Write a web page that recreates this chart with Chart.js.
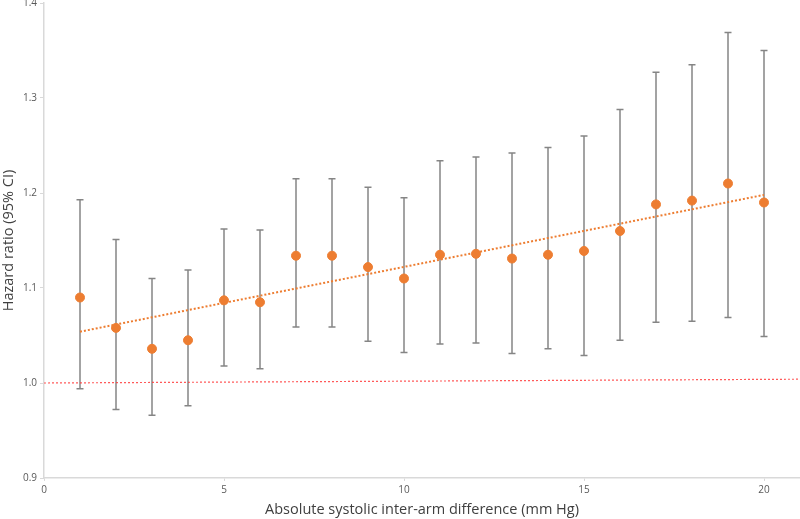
<!DOCTYPE html>
<html>
<head>
<meta charset="utf-8">
<script src="https://cdn.jsdelivr.net/npm/chart.js@4.4.1/dist/chart.umd.min.js"></script>
<style>
  html, body { margin: 0; padding: 0; background: #fff; }
  #wrap { width: 800px; height: 519px; position: relative; }
</style>
</head>
<body>
<div id="wrap"><canvas id="chart1"></canvas></div>
<script>
// data
var armDiff = [1, 2, 3, 4, 5, 6, 7, 8, 9, 10, 11, 12, 13, 14, 15, 16, 17, 18, 19, 20];
var hazard = [1.090, 1.058, 1.036, 1.045, 1.087, 1.085, 1.134, 1.134, 1.122, 1.110,
              1.135, 1.136, 1.131, 1.135, 1.139, 1.160, 1.188, 1.192, 1.210, 1.190];
var ciUpper = [1.193, 1.151, 1.110, 1.119, 1.162, 1.161, 1.215, 1.215, 1.206, 1.195,
               1.234, 1.238, 1.242, 1.248, 1.260, 1.288, 1.327, 1.335, 1.369, 1.350];
var ciLower = [0.994, 0.972, 0.966, 0.976, 1.018, 1.015, 1.059, 1.059, 1.044, 1.032,
               1.041, 1.042, 1.031, 1.036, 1.029, 1.045, 1.064, 1.065, 1.069, 1.049];
var trendX = [1, 20];
var trendY = [1.054, 1.198];
var refX = [0, 21];
var refY = [1.000, 1.004];
var xTicks = [0, 5, 10, 15, 20];
var yTicks = [0.9, 1.0, 1.1, 1.2, 1.3, 1.4];

function pts(xs, ys) {
    return xs.map(function(x, i) { return { x: x, y: ys[i] }; });
}

// error bars drawn through the chart scales
var errorBars = {
    id: 'errorBars',
    beforeDatasetsDraw: function(chart) {
        var ctx = chart.ctx, xs = chart.scales.x, ys = chart.scales.y;
        ctx.save();
        ctx.strokeStyle = '#858585';
        ctx.lineWidth = 1.5;
        armDiff.forEach(function(x, i) {
            var px = xs.getPixelForValue(x);
            var top = ys.getPixelForValue(ciUpper[i]);
            var bot = ys.getPixelForValue(ciLower[i]);
            ctx.beginPath();
            ctx.moveTo(px, top); ctx.lineTo(px, bot);
            ctx.moveTo(px - 3.5, top); ctx.lineTo(px + 3.5, top);
            ctx.moveTo(px - 3.5, bot); ctx.lineTo(px + 3.5, bot);
            ctx.stroke();
        });
        ctx.restore();
    }
};

var ctx = document.getElementById('chart1').getContext('2d');
var myChart = new Chart(ctx, {
    type: 'scatter',
    data: {
        datasets: [{
            label: 'Reference',
            data: pts(refX, refY),
            showLine: true,
            borderColor: 'rgba(255, 60, 60, 0.85)',
            borderWidth: 1.2,
            borderDash: [2, 2],
            pointRadius: 0,
            order: 3
        },
        {
            label: 'Trend',
            data: pts(trendX, trendY),
            showLine: true,
            borderColor: '#ED7D31',
            borderWidth: 2,
            borderDash: [2, 2],
            pointRadius: 0,
            order: 2
        },
        {
            label: 'Hazard ratio',
            data: pts(armDiff, hazard),
            backgroundColor: '#ED7D31',
            borderColor: '#ED7D31',
            pointRadius: 4.5,
            order: 1
        }]
    },
    options: {
        responsive: true,
        maintainAspectRatio: false,
        animation: false,
        layout: { autoPadding: false, padding: { top: 3, right: 0, left: 0, bottom: 0 } },
        plugins: {
            legend: { display: false },
            tooltip: { enabled: false }
        },
        scales: {
            x: {
                type: 'linear',
                min: 0,
                max: 21,
                afterBuildTicks: function(scale) {
                    scale.ticks = xTicks.map(function(v) { return { value: v }; });
                },
                afterFit: function(scale) {
                    scale.height = 41;
                    scale.paddingRight = 0;
                    scale.paddingLeft = 0;
                },
                ticks: {
                    color: '#595959',
                    font: { family: 'Open Sans', size: 10 },
                    padding: 3,
                    maxRotation: 0
                },
                grid: { drawOnChartArea: false, drawTicks: true, tickLength: 3, color: '#d9d9d9' },
                border: { color: '#d9d9d9', width: 1.5 },
                title: {
                    display: true,
                    text: 'Absolute systolic inter-arm difference (mm Hg)',
                    color: '#404040',
                    font: { family: 'Open Sans', size: 14.5 },
                    padding: { top: 0, bottom: 0 }
                }
            },
            y: {
                min: 0.9,
                max: 1.4,
                afterBuildTicks: function(scale) {
                    scale.ticks = yTicks.map(function(v) { return { value: v }; });
                },
                afterFit: function(scale) {
                    scale.width = 44;
                    scale.paddingTop = 0;
                    scale.paddingBottom = 0;
                },
                ticks: {
                    color: '#595959',
                    font: { family: 'Open Sans', size: 10 },
                    padding: 3,
                    callback: function(v) { return v.toFixed(1); }
                },
                grid: { drawOnChartArea: false, drawTicks: true, tickLength: 4, color: '#d9d9d9' },
                border: { color: '#d9d9d9', width: 1.5 },
                title: {
                    display: true,
                    text: 'Hazard ratio (95% CI)',
                    color: '#404040',
                    font: { family: 'Open Sans', size: 14.5 },
                    padding: { top: 0, bottom: 0 }
                }
            }
        }
    },
    plugins: [errorBars]
});
</script>
</body>
</html>
